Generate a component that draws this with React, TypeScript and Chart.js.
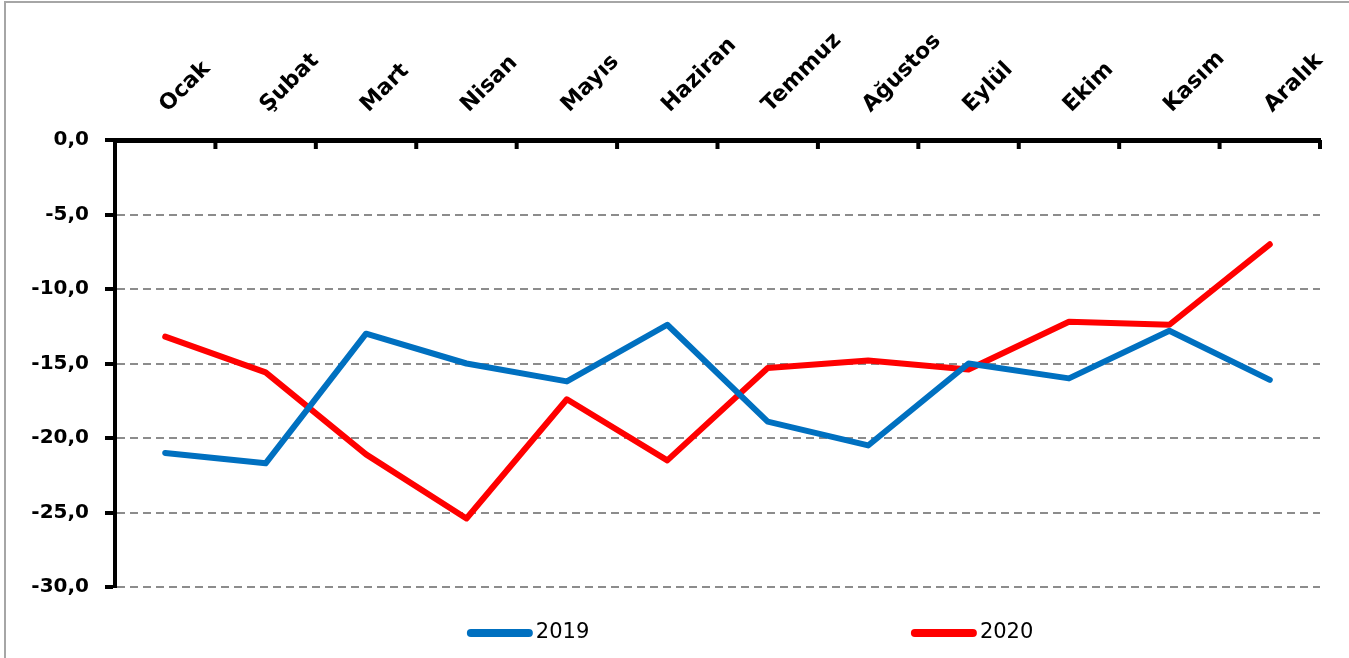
import React, { useEffect, useRef } from 'react';
import { Chart, registerables } from 'chart.js';

Chart.register(...registerables);

const months = ['Ocak', 'Şubat', 'Mart', 'Nisan', 'Mayıs', 'Haziran', 'Temmuz', 'Ağustos', 'Eylül', 'Ekim', 'Kasım', 'Aralık'];
const series2019 = [-21.0, -21.7, -13.0, -15.0, -16.2, -12.4, -18.9, -20.5, -15.0, -16.0, -12.8, -16.1];
const series2020 = [-13.2, -15.6, -21.1, -25.4, -17.4, -21.5, -15.3, -14.8, -15.4, -12.2, -12.4, -7.0];
const seriesNames = ['2019', '2020'];
const yTicks = [0, -5, -10, -15, -20, -25, -30];

const FONT = '"DejaVu Sans", "Open Sans", sans-serif';

const customPlugin = {
  id: 'customDecor',
  afterDraw(chart: any) {
    const { ctx, chartArea, scales } = chart;
    const x = scales.x;
    ctx.save();
    // inward tick marks on the top axis at category boundaries
    ctx.strokeStyle = '#000';
    ctx.lineWidth = 4;
    for (let i = 0; i < months.length; i++) {
      const px = x.getPixelForValue(i + 0.5);
      ctx.beginPath();
      ctx.moveTo(px, chartArea.top);
      ctx.lineTo(px, chartArea.top + 9);
      ctx.stroke();
    }
    // legend
    const w = chartArea.right - chartArea.left;
    const ly = chart.height - 25;
    const starts = [0.292, 0.6605];
    chart.data.datasets.forEach((ds: any, i: number) => {
      const sx = chartArea.left + starts[i] * w;
      ctx.strokeStyle = ds.borderColor;
      ctx.lineWidth = 8;
      ctx.lineCap = 'round';
      ctx.beginPath();
      ctx.moveTo(sx + 4, ly);
      ctx.lineTo(sx + 62, ly);
      ctx.stroke();
      ctx.fillStyle = '#000';
      ctx.font = `21px ${FONT}`;
      ctx.textBaseline = 'middle';
      ctx.textAlign = 'left';
      ctx.fillText(ds.label, sx + 69, ly);
    });
    ctx.restore();
  },
};

export default function App() {
  const ref = useRef<HTMLCanvasElement | null>(null);

  useEffect(() => {
    if (!ref.current) return;
    const chart = new Chart(ref.current, {
      type: 'line',
      data: {
        labels: months,
        datasets: [
          {
            label: seriesNames[0],
            data: series2019,
            borderColor: '#0070C0',
            backgroundColor: '#0070C0',
            borderWidth: 6,
            pointRadius: 0,
            borderCapStyle: 'round',
            borderJoinStyle: 'round',
            tension: 0,
          },
          {
            label: seriesNames[1],
            data: series2020,
            borderColor: '#FF0000',
            backgroundColor: '#FF0000',
            borderWidth: 6,
            pointRadius: 0,
            borderCapStyle: 'round',
            borderJoinStyle: 'round',
            tension: 0,
          },
        ],
      },
      options: {
        animation: false,
        responsive: false,
        maintainAspectRatio: false,
        layout: { padding: { left: 0, right: 29, top: 0, bottom: 71 } },
        plugins: {
          legend: { display: false },
          tooltip: { enabled: false },
        },
        scales: {
          x: {
            type: 'category',
            position: 'top',
            offset: true,
            afterFit: (s: any) => { s.height = 140; },
            ticks: {
              autoSkip: false,
              minRotation: 45,
              maxRotation: 45,
              padding: 22,
              labelOffset: 17,
              color: '#000',
              font: { family: FONT, size: 22, weight: 'bold' },
            },
            grid: { display: false, drawTicks: false, offset: true },
            border: { display: true, color: '#000', width: 5 },
          },
          y: {
            type: 'linear',
            min: -30,
            max: 0,
            afterFit: (s: any) => { s.width = 115; },
            afterBuildTicks: (s: any) => { s.ticks = yTicks.map((v) => ({ value: v })); },
            ticks: {
              padding: 16,
              color: '#000',
              font: { family: FONT, size: 20, weight: 'bold' },
              callback: (v: any) => Number(v).toFixed(1).replace('.', ','),
            },
            grid: {
              color: (c: any) => (c.tick && c.tick.value === 0 ? 'rgba(0,0,0,0)' : '#8c8c8c'),
              lineWidth: 2,
              tickLength: 10,
              tickColor: '#000',
              tickWidth: 4,
            },
            border: { display: true, color: '#000', width: 4, dash: [8, 5] },
          },
        },
      },
      plugins: [customPlugin],
    });
    return () => chart.destroy();
  }, []);

  return (
    <div style={{ position: 'absolute', left: 0, top: 0, width: 1349, height: 658, background: '#fff', overflow: 'hidden' }}>
      <canvas ref={ref} width={1349} height={658} style={{ position: 'absolute', left: 0, top: 0 }} />
      <div
        style={{
          position: 'absolute',
          left: 4,
          top: 1,
          width: 1360,
          height: 670,
          borderTop: '2px solid #a6a6a6',
          borderLeft: '2px solid #a6a6a6',
          pointerEvents: 'none',
        }}
      />
    </div>
  );
}
